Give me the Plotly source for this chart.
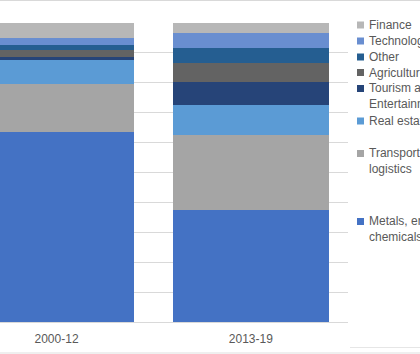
import plotly.graph_objects as go

categories = ["2000-12", "2013-19"]
series_names = ["Metals, energy and chemicals", "Transport and logistics", "Real estate",
                "Tourism and Entertainment", "Agriculture", "Other", "Technology", "Finance"]
metals = [63.2, 37.3]
transport = [16.2, 25.2]
real_estate = [8.1, 10.0]
tourism = [0.9, 7.4]
agriculture = [2.4, 6.3]
other = [1.4, 5.3]
technology = [2.4, 4.9]
finance = [5.2, 3.4]
legend_labels = ["Finance", "Technology", "Other", "Agriculture", "Tourism and<br>Entertainment",
                 "Real estate", "Transport and<br>logistics", "Metals, energy and<br>chemicals"]

values = [metals, transport, real_estate, tourism, agriculture, other, technology, finance]
colors = ["#4472C4", "#A5A5A5", "#5B9BD5", "#264478", "#636363", "#255E91", "#698ED0", "#B7B7B7"]
color_map = dict(zip(series_names, colors))

W, H = 420, 354
PL, PR, PT, PB = 0, 348, 22, 322

fig = go.Figure()
for name, vals, col in zip(series_names, values, colors):
    fig.add_trace(go.Bar(x=categories, y=vals, name=name, marker_color=col,
                         marker_line_width=0, showlegend=False))

font = dict(family="Liberation Sans, Arial, sans-serif", size=12, color="#595959")

# manual legend (Excel-like spacing)
legend_first_line_y = [25, 41, 57, 72.5, 88.5, 121, 153.5, 221.5]
line_h = 15.5
legend_order = ["Finance", "Technology", "Other", "Agriculture", "Tourism and Entertainment",
                "Real estate", "Transport and logistics", "Metals, energy and chemicals"]
shapes = []
annotations = []
pw = PR - PL
ph = PB - PT
def px_x(p):
    return (p - PL) / pw
def px_y(p):
    return (PB - p) / ph
for lab, nm, yy in zip(legend_labels, legend_order, legend_first_line_y):
    nl = lab.count("<br>") + 1
    shapes.append(dict(type="rect", xref="paper", yref="paper",
                       x0=px_x(357), x1=px_x(364), y0=px_y(yy - 3.5), y1=px_y(yy + 3.5),
                       fillcolor=color_map[nm], line_width=0))
    cy = yy + (nl - 1) * line_h / 2
    annotations.append(dict(text=lab, xref="paper", yref="paper", x=px_x(367), y=px_y(cy),
                            xanchor="left", yanchor="middle", align="left", showarrow=False,
                            font=font))

# chart frame lines
shapes.append(dict(type="line", xref="paper", yref="paper", x0=px_x(0), x1=px_x(W),
                   y0=px_y(0.5), y1=px_y(0.5), line=dict(color="#D9D9D9", width=1)))
shapes.append(dict(type="rect", xref="paper", yref="paper", x0=px_x(0), x1=px_x(W),
                   y0=px_y(352), y1=px_y(354), fillcolor="#EFEFEF", line_width=0))
shapes.append(dict(type="line", xref="paper", yref="paper", x0=px_x(350), x1=px_x(W),
                   y0=px_y(347.5), y1=px_y(347.5), line=dict(color="#E6E6E6", width=1)))

fig.update_layout(
    width=W, height=H,
    margin=dict(l=PL, r=W - PR, t=PT, b=H - PB, pad=0),
    barmode="stack", bargap=0.2,
    plot_bgcolor="white", paper_bgcolor="white",
    font=font,
    shapes=shapes, annotations=annotations,
    xaxis=dict(type="category", range=[-0.291, 1.5], showgrid=False, showline=False,
               zeroline=False, ticks="", ticklabelstandoff=8, tickfont=font, fixedrange=True),
    yaxis=dict(range=[0, 100], dtick=10, showgrid=True, gridcolor="#D9D9D9", gridwidth=1,
               showticklabels=False, zeroline=True, zerolinecolor="#D9D9D9", zerolinewidth=1,
               showline=False, ticks="", fixedrange=True),
)

fig.write_html("out.html")
